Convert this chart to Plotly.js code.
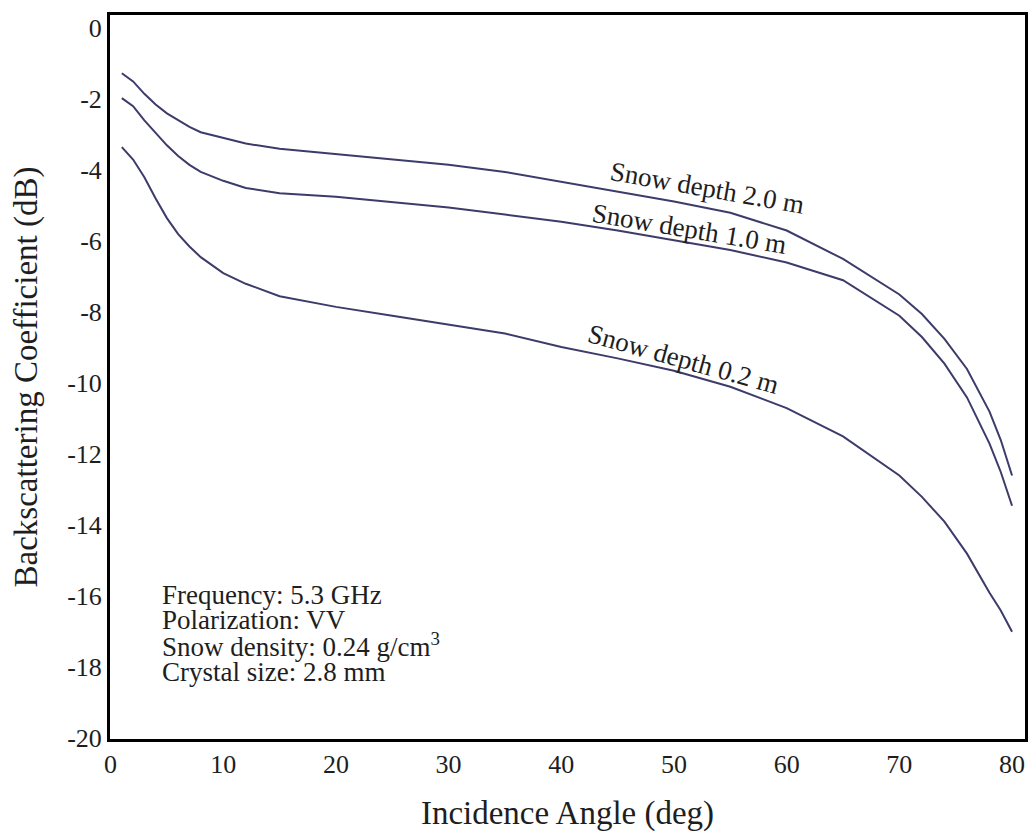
<!DOCTYPE html>
<html>
<head>
<meta charset="utf-8">
<script src="https://cdn.plot.ly/plotly-3.0.1.min.js"></script>
<style>html,body{margin:0;padding:0;background:#fff;}#chart{width:1035px;height:832px;}</style>
</head>
<body>
<div id="chart"></div>
<script>
// Incidence angle (deg)
const angles = [1, 2, 3, 4, 5, 6, 7, 8, 10, 12, 15, 20, 25, 30, 35, 40, 45, 50, 55, 60, 65, 70, 72, 74, 76, 78, 79, 80];
// Backscattering coefficient (dB) per snow depth
const depth20 = [-1.27, -1.5, -1.85, -2.15, -2.4, -2.6, -2.78, -2.93, -3.1, -3.25, -3.4, -3.55, -3.7, -3.85, -4.05, -4.33, -4.6, -4.88, -5.2, -5.7, -6.5, -7.5, -8.05, -8.75, -9.6, -10.8, -11.6, -12.6];
const depth10 = [-1.97, -2.2, -2.6, -2.95, -3.3, -3.6, -3.85, -4.05, -4.3, -4.5, -4.65, -4.75, -4.9, -5.05, -5.25, -5.45, -5.7, -5.98, -6.25, -6.6, -7.1, -8.1, -8.7, -9.45, -10.4, -11.7, -12.5, -13.45];
const depth02 = [-3.35, -3.7, -4.2, -4.8, -5.35, -5.8, -6.15, -6.45, -6.9, -7.2, -7.55, -7.85, -8.1, -8.35, -8.6, -8.98, -9.3, -9.65, -10.1, -10.7, -11.5, -12.6, -13.2, -13.9, -14.8, -15.9, -16.4, -17.0];
const seriesNames = ["Snow depth 2.0 m", "Snow depth 1.0 m", "Snow depth 0.2 m"];
const infoLines = ["Frequency: 5.3 GHz", "Polarization: VV", "Snow density: 0.24 g/cm<sup>3</sup>", "Crystal size: 2.8 mm"];
const xTickVals = [0, 10, 20, 30, 40, 50, 60, 70, 80];
const xTickText = ["0", "10", "20", "30", "40", "50", "60", "70", "80"];
const yTickVals = [0, -2, -4, -6, -8, -10, -12, -14, -16, -18, -20];
const yTickText = ["0", "-2", "-4", "-6", "-8", "-10", "-12", "-14", "-16", "-18", "-20"];
const xTitle = "Incidence Angle (deg)";
const yTitle = "Backscattering Coefficient (dB)";

const FONT = "'Liberation Serif', 'Times New Roman', serif";
const lineColor = "#3c3b6a";
const textColor = "#1e1e1e";

const series = [depth20, depth10, depth02];
const traces = series.map((ys, i) => ({
  x: angles, y: ys, type: "scatter", mode: "lines", name: seriesNames[i],
  line: {color: lineColor, width: 2}, showlegend: false, hoverinfo: "skip"
}));

// curve label placements (data coords) and rotation
const labelPos = [
  {x: 53.0, y: -4.5, a: 10},
  {x: 51.4, y: -5.66, a: 9.5},
  {x: 50.8, y: -9.33, a: 15.5}
];
const annotations = seriesNames.map((t, i) => ({
  x: labelPos[i].x, y: labelPos[i].y, xref: "x", yref: "y", text: t, showarrow: false,
  textangle: labelPos[i].a, xanchor: "center", yanchor: "middle",
  font: {family: FONT, size: 27, color: textColor}
}));
const infoY = [-15.97, -16.68, -17.38, -18.14];
infoLines.forEach((t, i) => annotations.push({
  x: 4.4, y: infoY[i], xref: "x", yref: "y", text: t, showarrow: false,
  xanchor: "left", yanchor: "middle",
  font: {family: FONT, size: 27, color: textColor}
}));

const layout = {
  width: 1035, height: 832,
  margin: {l: 110, r: 10, t: 15, b: 93},
  paper_bgcolor: "#fff", plot_bgcolor: "#fff",
  font: {family: FONT, color: textColor},
  xaxis: {
    range: [-0.05, 81.15], tickmode: "array", tickvals: xTickVals, ticktext: xTickText,
    ticks: "", showgrid: false, zeroline: false,
    showline: true, mirror: true, linecolor: "#000", linewidth: 3,
    tickfont: {family: FONT, size: 26, color: textColor},
    title: {text: xTitle, font: {family: FONT, size: 33, color: textColor}, standoff: 28},
    automargin: false
  },
  yaxis: {
    range: [-20.02, 0.37], tickmode: "array", tickvals: yTickVals, ticktext: yTickText,
    ticks: "", showgrid: false, zeroline: false,
    showline: true, mirror: true, linecolor: "#000", linewidth: 3,
    tickfont: {family: FONT, size: 26, color: textColor},
    title: {text: yTitle, font: {family: FONT, size: 33, color: textColor}, standoff: 20},
    automargin: false
  },
  annotations: annotations,
  showlegend: false
};

Plotly.newPlot("chart", traces, layout, {displayModeBar: false, staticPlot: true});
</script>
</body>
</html>
